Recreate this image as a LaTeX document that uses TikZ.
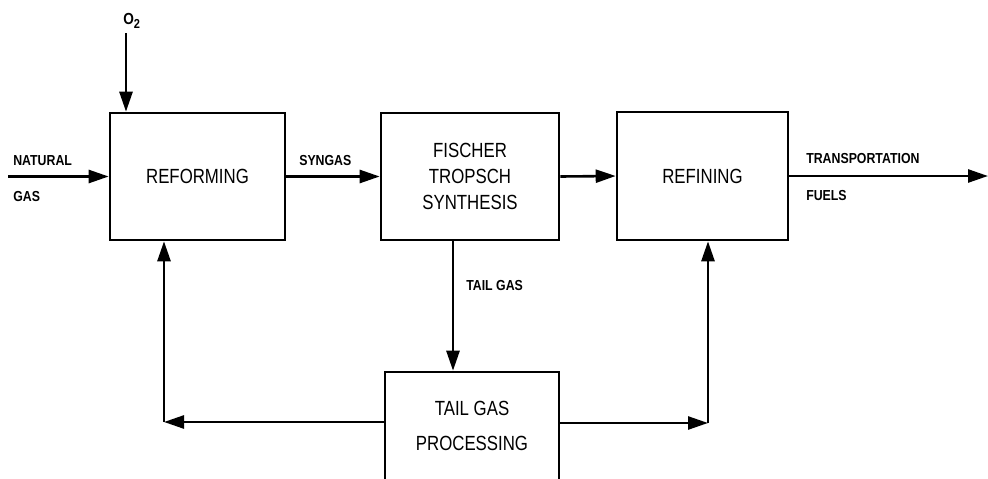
\documentclass[tikz,border=0pt]{standalone}
\usepackage{fontspec}
\usetikzlibrary{arrows.meta}
\newfontfamily\bigf{Liberation Sans}[FakeStretch=0.82]
\newfontfamily\smallf{Liberation Sans}[FakeStretch=0.85]
\begin{document}
\begin{tikzpicture}[x=1pt,y=-1pt,
  line width=2.6pt,
  box/.style={draw, rectangle, line width=2.6pt, inner sep=0pt, font=\bigf\fontsize{20.5}{26}\selectfont, align=center},
  lbl/.style={font=\smallf\bfseries\fontsize{14.5}{17}\selectfont, inner sep=0pt, anchor=west},
  arr/.style={-{Triangle[length=20pt,width=13pt]}, line width=2.6pt}]
\useasboundingbox (0,0) rectangle (988,479);
\clip (0,0) rectangle (988,479);

\node[box, minimum width=175pt, minimum height=127pt] (ref) at (197.5,176.5) {REFORMING};
\node[box, minimum width=178pt, minimum height=127pt] (ft) at (470,176.5) {FISCHER\\TROPSCH\\SYNTHESIS};
\node[box, minimum width=171pt, minimum height=128pt] (rfn) at (702.5,176) {REFINING};
\node[box, minimum width=174pt, minimum height=112pt] (tgp) at (472,428) {};
\node[font=\bigf\fontsize{20.5}{35}\selectfont, align=center, inner sep=0pt] (tgpt) at (472,426) {TAIL GAS\\PROCESSING};

% inputs
\coordinate (nat) at (8,176.5);
\draw[arr] (nat) -- (ref.west);
\node[lbl] (natl) at (12,161) {NATURAL};
\node[lbl] (gasl) at (12,197) {GAS};

\coordinate (o2) at (126,33);
\draw[arr] (o2) -- (o2 |- ref.north);
\node[font=\smallf\bfseries\fontsize{16}{18}\selectfont, inner sep=0pt, anchor=west] (o2l) at (122,21) {O\raisebox{-0.5ex}{\fontsize{13}{14}\selectfont 2}};

% main flow
\draw[arr] (ref.east) -- (ft.west);
\node[lbl] (syn) at (298,161) {SYNGAS};
\draw[arr] (ft.east) -- (rfn.west);
\coordinate (out) at (988,176);
\draw[arr] (rfn.east) -- (out);
\node[lbl] (tr) at (805,159) {TRANSPORTATION};
\node[lbl] (fu) at (805,196) {FUELS};

% tail gas
\coordinate (tgx) at (453,0);
\draw[arr] (ft.south -| tgx) -- (tgp.north -| tgx);
\node[lbl] (tgl) at (465,286) {TAIL GAS};

% loops
\coordinate (cl) at (164,422);
\coordinate (cr) at (708,423);
\draw[arr] (tgp.west |- cl) -- (cl);
\draw[arr] (cl) -- (cl |- ref.south);
\draw[arr] (tgp.east |- cr) -- (cr);
\draw[arr] (cr) -- (cr |- rfn.south);
\end{tikzpicture}
\end{document}
